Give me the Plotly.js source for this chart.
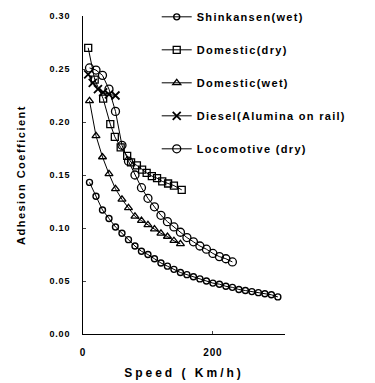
<!DOCTYPE html>
<html>
<head>
<meta charset="utf-8">
<script src="https://cdn.plot.ly/plotly-3.0.1.min.js"></script>
<style>
html,body{margin:0;padding:0;background:#fff;}
#chart{width:375px;height:383px;}
.legendtext{letter-spacing:1.3px;}
.xtitle{letter-spacing:3px;}
.ytitle{letter-spacing:1.5px;}
.ytick text,.xtick text{letter-spacing:0.8px;}
</style>
</head>
<body>
<div id="chart"></div>
<script>
// Shinkansen (wet)
const shinX = [10,20,30,40,50,60,70,80,90,100,110,120,130,140,150,160,170,180,190,200,210,220,230,240,250,260,270,280,290,300];
const shinY = [0.143,0.130,0.117,0.109,0.101,0.095,0.089,0.083,0.078,0.075,0.071,0.067,0.064,0.061,0.058,0.056,0.054,0.052,0.050,0.048,0.047,0.045,0.044,0.042,0.041,0.040,0.039,0.038,0.037,0.035];
// Domestic (dry)
const domDryX = [8,18,31,42,49,58,68,74,83,91,98,106,114,122,131,140,152];
const domDryY = [0.270,0.240,0.222,0.198,0.186,0.176,0.168,0.162,0.159,0.155,0.152,0.149,0.147,0.144,0.142,0.140,0.136];
// Domestic (wet)
const domWetX = [10,20,30,40,50,60,70,80,90,100,110,120,130,140,150];
const domWetY = [0.220,0.187,0.167,0.151,0.137,0.127,0.119,0.111,0.107,0.103,0.099,0.095,0.092,0.088,0.085];
// Diesel (Alumina on rail)
const dieselX = [8,15,23,31,40,50];
const dieselY = [0.245,0.237,0.231,0.228,0.226,0.225];
// Locomotive (dry)
const locoX = [10,20,30,40,50,60,70,80,90,100,110,120,130,140,150,160,170,180,190,200,210,220,230];
const locoY = [0.251,0.249,0.244,0.231,0.210,0.178,0.163,0.150,0.138,0.128,0.120,0.112,0.106,0.101,0.096,0.091,0.087,0.083,0.080,0.076,0.073,0.071,0.068];

const names = ['Shinkansen(wet)','Domestic(dry)','Domestic(wet)','Diesel(Alumina on rail)','Locomotive (dry)'];
const xTickVals = [0,200];
const xTickText = ['0','200'];
const yTickVals = [0,0.05,0.10,0.15,0.20,0.25,0.30];

const F = 'Liberation Sans, Arial, sans-serif';
function tr(x,y,name,sym,size,lw,grp){
  return {x:x,y:y,name:name,type:'scatter',mode:'lines+markers',legendgroup:grp,
    line:{color:'#000',width:1},
    marker:{symbol:sym,size:size,color:'#000',line:{color:'#000',width:lw}}};
}
const data = [
  tr(shinX,shinY,names[0],'circle-open',6,1.4,'a'),
  tr(domDryX,domDryY,names[1],'square-open',7,1.3,'b'),
  tr(domWetX,domWetY,names[2],'triangle-up-open',7,1.3,'c'),
  tr(dieselX,dieselY,names[3],'x-thin-open',8,1.8,'d'),
  tr(locoX,locoY,names[4],'circle-open',8,1.3,'e')
];
const layout = {
  width:375,height:383,
  margin:{l:83,r:90,t:16,b:49,autoexpand:false},
  paper_bgcolor:'#fff',plot_bgcolor:'#fff',
  font:{family:F,color:'#000'},
  showlegend:true,
  legend:{x:0.365,y:1.043,xanchor:'left',yanchor:'top',
    traceorder:'grouped',tracegroupgap:14,
    font:{family:F,size:11,weight:'bold',color:'#000'},bgcolor:'rgba(0,0,0,0)'},
  xaxis:{range:[0,311],tickvals:xTickVals,ticktext:xTickText,ticks:'inside',ticklen:3,
    showline:true,linecolor:'#000',linewidth:1,showgrid:false,zeroline:false,
    tickfont:{family:F,size:10,weight:'bold'},ticklabelstandoff:9,
    title:{text:'Speed ( Km/h)',font:{family:F,size:12,weight:'bold'},standoff:11}},
  yaxis:{range:[0,0.30],tickvals:yTickVals,tickformat:'.2f',ticks:'inside',ticklen:3,
    showline:true,linecolor:'#000',linewidth:1,showgrid:false,zeroline:false,
    tickfont:{family:F,size:9,weight:'bold'},ticklabelstandoff:10,
    title:{text:'Adhesion Coefficient',font:{family:F,size:11,weight:'bold'},standoff:21}}
};
Plotly.newPlot('chart',data,layout,{displayModeBar:false,staticPlot:true});
</script>
</body>
</html>
